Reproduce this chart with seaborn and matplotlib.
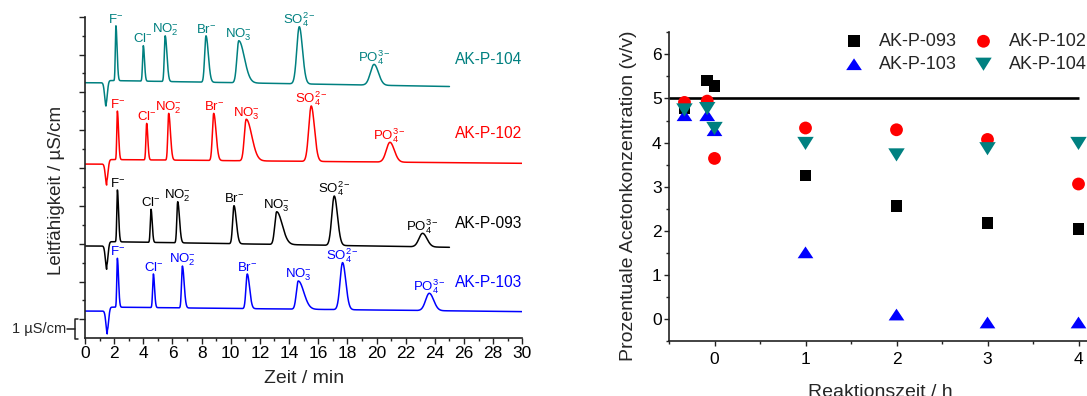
import numpy as np
import pandas as pd
import matplotlib
matplotlib.use('Agg')
import matplotlib.pyplot as plt
from matplotlib.ticker import MultipleLocator, FixedLocator
import seaborn as sns

# ---- left panel: ion chromatograms (peak tables) ----
ion_labels = [r'F$^{-}$', r'Cl$^{-}$', r'NO$_2^{-}$', r'Br$^{-}$',
              r'NO$_3^{-}$', r'SO$_4^{2-}$', r'PO$_4^{3-}$']
# left / right peak half widths (min), same column for every sample
width_left = [0.04, 0.05, 0.06, 0.09, 0.13, 0.17, 0.25]
width_right = [0.08, 0.08, 0.12, 0.16, 0.38, 0.22, 0.30]

samples = ['AK-P-104', 'AK-P-102', 'AK-P-093', 'AK-P-103']
sample_colors = ['#008080', '#ff0000', '#000000', '#0000ff']
# retention times (min)
rt_104 = [2.12, 4.00, 5.50, 8.30, 10.55, 14.70, 19.83]
rt_102 = [2.22, 4.23, 5.74, 8.83, 11.06, 15.52, 20.92]
rt_093 = [2.22, 4.53, 6.36, 10.22, 13.15, 17.10, 23.16]
rt_103 = [2.22, 4.69, 6.68, 11.13, 14.63, 17.67, 23.62]
# peak apex (stacked signal, µS/cm)
top_104 = [16.52, 15.47, 15.99, 15.99, 15.73, 16.47, 14.48]
top_102 = [12.01, 11.36, 11.89, 11.89, 11.58, 12.28, 10.36]
top_093 = [7.84, 6.82, 7.22, 7.01, 6.69, 7.52, 5.55]
top_103 = [4.23, 3.40, 3.82, 3.40, 3.03, 4.00, 2.38]
# baseline before injection, right after the dip, at the end of the run
base_pre = [13.51, 9.21, 4.88, 1.44]
base_start = [13.63, 9.45, 5.11, 1.65]
base_end = [13.31, 9.25, 4.81, 1.41]
# water dip: time and lowest value
dip_time = [1.44, 1.49, 1.49, 1.53]
dip_low = [12.28, 8.10, 3.65, 0.23]
run_end = [25, 30, 25, 30]
name_y = [14.75, 10.83, 6.08, 2.94]

rts = [rt_104, rt_102, rt_093, rt_103]
tops = [top_104, top_102, top_093, top_103]

# ---- right panel: acetone concentration ----
reaction_time = [-0.33, -0.08, 0, 1, 2, 3, 4]
ak093 = [4.77, 5.41, 5.28, 3.25, 2.56, 2.18, 2.04]
ak102 = [4.91, 4.94, 3.64, 4.33, 4.29, 4.07, 3.06]
ak103 = [4.62, 4.62, 4.28, 1.51, 0.10, -0.08, -0.08]
ak104 = [4.74, 4.77, 4.32, 3.98, 3.72, 3.86, 3.98]
target_conc = 5.0

sns.set_style('ticks')
plt.rcParams['font.family'] = ['Liberation Sans', 'DejaVu Sans']
plt.rcParams['mathtext.fontset'] = 'custom'
plt.rcParams['mathtext.rm'] = 'Liberation Sans'
plt.rcParams['mathtext.it'] = 'Liberation Sans:italic'
plt.rcParams['mathtext.bf'] = 'Liberation Sans:bold'
plt.rcParams['axes.edgecolor'] = '#222222'
plt.rcParams['axes.linewidth'] = 1.2
plt.rcParams['xtick.color'] = '#222222'
plt.rcParams['ytick.color'] = '#222222'
plt.rcParams['xtick.labelcolor'] = 'black'
plt.rcParams['ytick.labelcolor'] = 'black'

fig = plt.figure(figsize=(10.87, 3.96), dpi=100)
W, H = 1087, 396
ax1 = fig.add_axes([85 / W, 57.7 / H, 437.3 / W, 321.6 / H])
ax2 = fig.add_axes([669 / W, 55 / H, 4.65 * 91 / W, 308.7 / H])


def shape(t, rt, sl, sr):
    s = np.where(t < rt, sl, sr)
    return np.exp(-0.5 * ((t - rt) / s) ** 2)


for i, name in enumerate(samples):
    t = np.linspace(0, run_end[i], 4000)
    t_rel = (t - dip_time[i]) / (run_end[i] - dip_time[i])
    base = np.where(t < dip_time[i], base_pre[i],
                    base_start[i] + (base_end[i] - base_start[i]) * t_rel)
    sig = base.copy()
    sig -= (base_pre[i] - dip_low[i]) * shape(t, dip_time[i], 0.09, 0.09)
    for k in range(len(ion_labels)):
        b = np.interp(rts[i][k], t, base)
        sig += (tops[i][k] - b) * shape(t, rts[i][k], width_left[k], width_right[k])
    df = pd.DataFrame({'t': t, 'y': sig})
    sns.lineplot(data=df, x='t', y='y', ax=ax1, color=sample_colors[i],
                 lw=1.1, estimator=None, sort=False)
    for k, lab in enumerate(ion_labels):
        ax1.text(rts[i][k], tops[i][k] + 0.17, lab, color=sample_colors[i],
                 fontsize=9.5, ha='center', va='baseline')
    ax1.text(25.4, name_y[i], name, color=sample_colors[i], fontsize=11.2,
             ha='left', va='center')

ax1.set_xlim(0, 30)
ax1.set_ylim(0, 17)
ax1.xaxis.set_major_locator(MultipleLocator(2))
ax1.xaxis.set_minor_locator(MultipleLocator(1))
ax1.yaxis.set_major_locator(FixedLocator(np.arange(1, 18, 2)))
ax1.yaxis.set_minor_locator(FixedLocator(np.arange(2, 17, 2)))
ax1.tick_params(axis='both', which='major', direction='out', length=4.2,
                width=1, labelsize=12.5, pad=1.5)
ax1.tick_params(axis='both', which='minor', direction='out', length=2.3, width=1)
ax1.tick_params(axis='y', labelleft=False)
ax1.set_xlabel('Zeit / min', fontsize=14)
ax1.set_ylabel('Leitfähigkeit / µS/cm', fontsize=13.5)
ax1.yaxis.set_label_coords(-0.045, 0.46)
ax1.xaxis.set_label_coords(0.5, -0.1)
sns.despine(ax=ax1)

# 1 µS/cm scale bracket
ax1.plot([-0.45, -0.69, -0.69, -0.45], [1.0, 1.0, -0.02, -0.02], color='#222222',
         lw=1.1, clip_on=False)
ax1.plot([-1.25, -0.69], [0.5, 0.5], color='#222222', lw=1.1, clip_on=False)
ax1.text(-1.3, 0.5, '1 µS/cm', fontsize=10.5, ha='right', va='center')

# right panel
series = [('AK-P-093', ak093, '#000000', 's', 70),
          ('AK-P-102', ak102, '#ff0000', 'o', 85),
          ('AK-P-103', ak103, '#0000ff', [(-1, -0.75), (1, -0.75), (0, 0.75)], 128),
          ('AK-P-104', ak104, '#008080', [(-1, 0.8), (1, 0.8), (0, -0.8)], 140)]
ax2.hlines(target_conc, -0.5, 4.0, color='black', lw=1.9, zorder=2)
for name, vals, col, mk, sz in series:
    sns.scatterplot(x=reaction_time, y=vals, ax=ax2, color=col, marker=mk, s=sz,
                    edgecolor='none', linewidth=0, label=name, zorder=3)

ax2.set_xlim(-0.5, 4.15)
ax2.set_ylim(-0.5, 6.5)
ax2.xaxis.set_major_locator(MultipleLocator(1))
ax2.xaxis.set_minor_locator(MultipleLocator(0.5))
ax2.yaxis.set_major_locator(MultipleLocator(1))
ax2.yaxis.set_minor_locator(MultipleLocator(0.5))
ax2.tick_params(axis='both', which='major', direction='out', length=3.8,
                width=1, labelsize=12.5)
ax2.tick_params(axis='x', which='major', pad=4)
ax2.tick_params(axis='y', which='major', pad=1.5)
ax2.tick_params(axis='both', which='minor', direction='out', length=2.2, width=1)
ax2.set_xlabel('Reaktionszeit / h', fontsize=14)
ax2.set_ylabel('Prozentuale Acetonkonzentration (v/v)', fontsize=14)
ax2.yaxis.set_label_coords(-0.076, 0.47)
ax2.xaxis.set_label_coords(0.5, -0.14)
sns.despine(ax=ax2)

handles, labels = ax2.get_legend_handles_labels()
order = [0, 2, 1, 3]
ax2.legend([handles[j] for j in order], [labels[j] for j in order], ncol=2,
           frameon=False, fontsize=13, loc='upper left',
           bbox_to_anchor=(845 / W, 1 - 33 / H), bbox_transform=fig.transFigure,
           borderpad=0, borderaxespad=0, handlelength=1.0, handletextpad=0.9,
           columnspacing=0.95, labelspacing=0.33)

fig.savefig('out.png', dpi=100)
